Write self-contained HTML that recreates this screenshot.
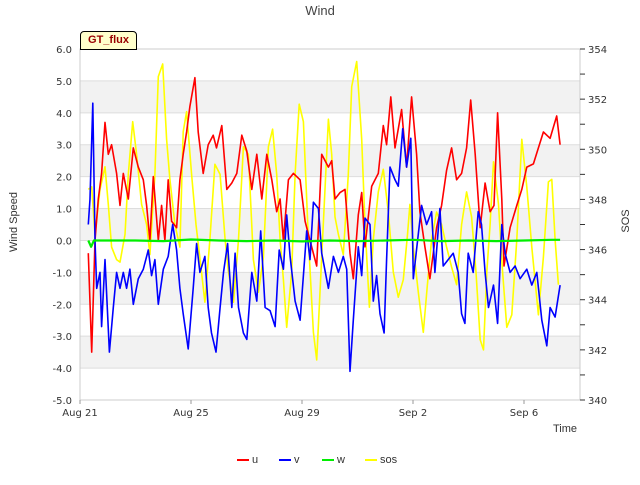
<!DOCTYPE html>
<html><head><meta charset="utf-8"><style>
body{margin:0;background:#fff;font-family:"Liberation Sans","DejaVu Sans",sans-serif}
svg text{font-family:"DejaVu Sans","Liberation Sans",sans-serif}
</style></head><body>
<svg id="chart" width="640" height="480" xmlns="http://www.w3.org/2000/svg"></svg>
<script>
const xTickLabels=["Aug 21","Aug 25","Aug 29","Sep 2","Sep 6"];
const xTickDays=[0,4,8,12,16];
const yTicks=[6,5,4,3,2,1,0,-1,-2,-3,-4,-5];
const y2Labels=[354,352,350,348,346,344,342,340];
const uT=[0.30,0.42,0.54,0.66,0.78,0.90,1.02,1.14,1.32,1.44,1.56,1.74,1.92,2.10,2.28,2.40,2.52,2.64,2.82,2.94,3.06,3.18,3.30,3.48,3.60,3.72,3.84,3.96,4.14,4.26,4.44,4.62,4.80,4.92,5.11,5.29,5.47,5.65,5.83,6.01,6.19,6.37,6.55,6.73,6.91,7.09,7.21,7.33,7.51,7.69,7.93,8.11,8.29,8.53,8.71,8.95,9.07,9.19,9.37,9.55,9.73,9.85,10.03,10.15,10.27,10.51,10.75,10.93,11.05,11.20,11.35,11.59,11.77,11.95,12.13,12.25,12.43,12.61,12.85,13.03,13.21,13.39,13.57,13.75,13.93,14.08,14.24,14.42,14.60,14.78,14.92,15.05,15.20,15.28,15.50,15.74,15.92,16.10,16.34,16.52,16.70,16.94,17.18,17.30];
const uV=[-0.4,-3.5,0,1.3,2.1,3.7,2.7,3.0,2.1,1.1,2.1,1.3,2.9,2.3,1.9,1.1,0,2.0,0,1.1,0,1.9,0.6,0.4,1.9,2.7,3.4,4.2,5.1,3.4,2.1,3.0,3.3,2.9,3.6,1.6,1.8,2.1,3.3,2.8,1.6,2.7,1.3,2.7,1.9,0.9,1.3,0,1.9,2.1,1.9,0.6,0,-0.8,2.7,2.3,2.5,1.3,1.5,1.6,-0.4,-1.2,0.8,1.5,-0.2,1.7,2.1,3.6,3.0,4.5,2.9,4.1,2.3,4.5,2.7,0.9,-0.2,-1.2,0.4,1.1,2.2,2.9,1.9,2.1,2.9,4.4,2.7,0.4,1.8,0.9,1.1,4.0,1.3,-0.8,0.4,1.1,1.6,2.3,2.4,2.9,3.4,3.2,3.9,3.0];
const vT=[0.30,0.36,0.46,0.54,0.60,0.72,0.78,0.90,1.06,1.20,1.32,1.44,1.56,1.68,1.80,1.92,2.10,2.28,2.46,2.58,2.70,2.82,3.00,3.18,3.34,3.48,3.60,3.72,3.90,4.08,4.20,4.32,4.50,4.62,4.74,4.90,5.05,5.17,5.32,5.47,5.59,5.71,5.89,6.01,6.19,6.37,6.51,6.67,6.85,7.03,7.18,7.33,7.45,7.57,7.75,7.93,8.17,8.29,8.41,8.59,8.71,8.95,9.13,9.31,9.49,9.61,9.73,9.85,10.03,10.15,10.27,10.45,10.57,10.69,10.81,10.96,11.05,11.17,11.35,11.47,11.63,11.77,11.92,12.01,12.19,12.31,12.49,12.67,12.79,12.97,13.09,13.27,13.45,13.63,13.75,13.87,13.99,14.17,14.35,14.47,14.60,14.72,14.90,15.05,15.20,15.32,15.50,15.68,15.86,16.10,16.28,16.46,16.64,16.82,16.94,17.12,17.30];
const vV=[0.5,1.3,4.3,0,-1.5,-1.0,-2.7,-0.6,-3.5,-2.1,-1.0,-1.5,-1.0,-1.5,-0.9,-2.0,-1.2,-0.9,-0.3,-1.1,-0.6,-2.0,-0.9,-0.5,0.5,-0.3,-1.5,-2.3,-3.4,-1.5,-0.1,-1.0,-0.5,-2.1,-2.9,-3.5,-2.1,-1.0,-0.1,-2.1,-0.4,-2.1,-2.9,-3.1,-1.0,-1.9,0.3,-2.1,-2.2,-2.7,-0.3,-0.9,0.8,-0.5,-1.9,-2.5,0.3,-0.6,1.2,1.0,-0.4,-1.5,-0.5,-1.0,-0.5,-0.9,-4.1,-2.5,-0.2,-1.1,0.7,0.5,-1.9,-1.1,-2.3,-2.9,-0.6,2.3,1.9,1.7,3.5,2.3,3.2,-1.2,0.2,1.1,0.5,0.9,-1.0,1.0,-0.8,-0.6,-0.4,-1.0,-2.3,-2.6,-0.4,-1.0,0.9,0.5,-1.0,-2.1,-1.4,-2.6,0.5,-0.4,-1.0,-0.8,-1.2,-0.9,-1.4,-1.0,-2.5,-3.3,-2.1,-2.4,-1.4];
const wT=[0.30,0.40,0.50,1,2,3,4,5,6,7,8,9,10,11,12,13,14,15,16,17,17.30];
const wV=[0,-0.2,0,0,0,-0.02,0.03,0,-0.02,0,-0.03,0,-0.02,0,0.02,-0.02,0,-0.02,0,0.02,0.02];
const sT=[0.30,0.42,0.54,0.72,0.90,1.02,1.14,1.32,1.44,1.62,1.74,1.90,2.04,2.22,2.40,2.52,2.70,2.82,2.98,3.12,3.24,3.42,3.60,3.72,3.84,4.02,4.18,4.38,4.50,4.68,4.86,5.05,5.23,5.35,5.53,5.71,5.89,6.07,6.25,6.43,6.61,6.79,6.94,7.09,7.21,7.33,7.45,7.63,7.75,7.90,8.05,8.23,8.41,8.53,8.71,8.95,9.07,9.19,9.31,9.49,9.67,9.79,9.97,10.15,10.27,10.43,10.57,10.75,10.93,11.11,11.29,11.47,11.65,11.80,11.89,12.01,12.19,12.37,12.52,12.67,12.85,13.03,13.21,13.39,13.57,13.75,13.93,14.11,14.27,14.42,14.54,14.66,14.78,14.90,15.08,15.23,15.38,15.56,15.74,15.92,16.10,16.28,16.52,16.70,16.88,17.00,17.12,17.24];
const sV=[348.4,348.5,346.6,348.4,349.3,347.8,346.1,345.6,345.5,346.6,349.0,351.1,349.8,347.8,347.0,345.8,349.0,352.9,353.4,350.4,348.8,347.0,346.1,350.7,351.5,349.0,347.0,345.1,343.9,346.4,349.4,349.0,346.4,345.1,343.9,346.4,350.1,349.8,345.6,344.3,345.7,350.1,350.8,349.0,346.4,344.8,342.9,345.1,349.0,351.8,351.1,346.4,342.7,341.6,345.7,351.2,349.8,347.3,346.6,345.8,349.0,352.5,353.5,350.4,347.0,343.7,346.4,348.3,349.2,347.5,345.1,344.1,344.8,346.6,347.8,346.1,344.3,342.7,344.6,346.4,347.5,347.0,346.1,345.3,344.6,347.0,348.3,347.3,345.1,342.4,342.0,345.1,347.0,349.5,347.8,345.1,342.9,343.4,346.4,350.4,348.5,346.1,343.4,345.7,348.7,348.8,346.4,344.6];

const svg=document.getElementById('chart');
const NS='http://www.w3.org/2000/svg';
const L=80,R=580,T=49,B=400;
const xs=d=>L+d*27.75;
const ys=v=>T+(6-v)*(B-T)/11;
const ys2=s=>T+(354-s)*(B-T)/14;
function mk(tag,attrs,parent){const e=document.createElementNS(NS,tag);for(const k in attrs)e.setAttribute(k,attrs[k]);(parent||svg).appendChild(e);return e;}

for(let v=5;v>-5;v-=2){
  const b=mk('rect',{x:L,y:ys(v),width:R-L,height:ys(v-1)-ys(v),fill:'#f2f2f2'});
  
  
}
yTicks.forEach(v=>{
  const g=mk('line',{x1:L,x2:R,y1:ys(v),y2:ys(v),stroke:'#dddddd','stroke-width':1});
  
  
  const t=mk('text',{x:72,y:ys(v)+4,'text-anchor':'end','font-size':10,fill:'#333'});
  t.textContent=v.toFixed(1);
  
  
});
const fr=mk('rect',{x:L,y:T,width:R-L,height:B-T,fill:'none',stroke:'#cccccc'});


xTickDays.forEach((d,i)=>{
  const t=mk('text',{x:xs(d),y:416,'text-anchor':'middle','font-size':10,fill:'#333'});
  t.textContent=xTickLabels[i];
  
  
  const tk=mk('line',{x1:xs(d),x2:xs(d),y1:B,y2:B+4,stroke:'#999'});
  
  
});
for(let s=340;s<=354;s++){
  const tk=mk('line',{x1:R,x2:R+5,y1:ys2(s),y2:ys2(s),stroke:'#333'});
  
  
}
y2Labels.forEach(s=>{
  const t=mk('text',{x:588,y:ys2(s)+4,'font-size':10,fill:'#333'});
  t.textContent=s;
  
  
});
function series(T_,V_,f,color,name,w){
  const p=T_.map((d,i)=>(i?'L':'M')+xs(d).toFixed(1)+','+f(V_[i]).toFixed(1)).join('');
  const e=mk('path',{d:p,fill:'none',stroke:color,'stroke-width':w,'stroke-linejoin':'round'});
  
  
}
series(sT,sV,ys2,'#ffff00','sos-line',1.6);
series(uT,uV,ys,'#ff0000','u-line',1.6);
series(vT,vV,ys,'#0000ff','v-line',1.6);
series(wT,wV,ys,'#00ee00','w-line',2.2);
</script>
<div style="position:absolute;left:0;top:3px;width:640px;text-align:center;font-size:13px;color:#444">Wind</div>
<div style="position:absolute;left:-36px;top:216px;width:100px;text-align:center;transform:rotate(-90deg);font-size:11px;color:#333">Wind Speed</div>
<div style="position:absolute;left:576px;top:215px;width:100px;text-align:center;transform:rotate(-90deg);font-size:11px;color:#333">SOS</div>
<div style="position:absolute;left:553px;top:423px;font-size:11px;color:#333">Time</div>
<div style="position:absolute;left:80px;top:31px;width:55px;height:17px;background:#ffffcc;border:1px solid #000;border-radius:4px 4px 0 0;font-size:11px;font-weight:bold;color:#990000;text-align:center;line-height:17px">GT_flux</div>
<div style="position:absolute;top:454px;left:0;width:640px;font-size:11px;color:#333">
<span style="position:absolute;left:237px"><span style="display:inline-block;width:12px;height:2px;background:#f00;vertical-align:middle"></span> u</span>
<span style="position:absolute;left:279px"><span style="display:inline-block;width:12px;height:2px;background:#00f;vertical-align:middle"></span> v</span>
<span style="position:absolute;left:322px"><span style="display:inline-block;width:12px;height:2px;background:#0e0;vertical-align:middle"></span> w</span>
<span style="position:absolute;left:365px"><span style="display:inline-block;width:12px;height:2px;background:#ff0;vertical-align:middle"></span> sos</span>
</div>
</body></html>
